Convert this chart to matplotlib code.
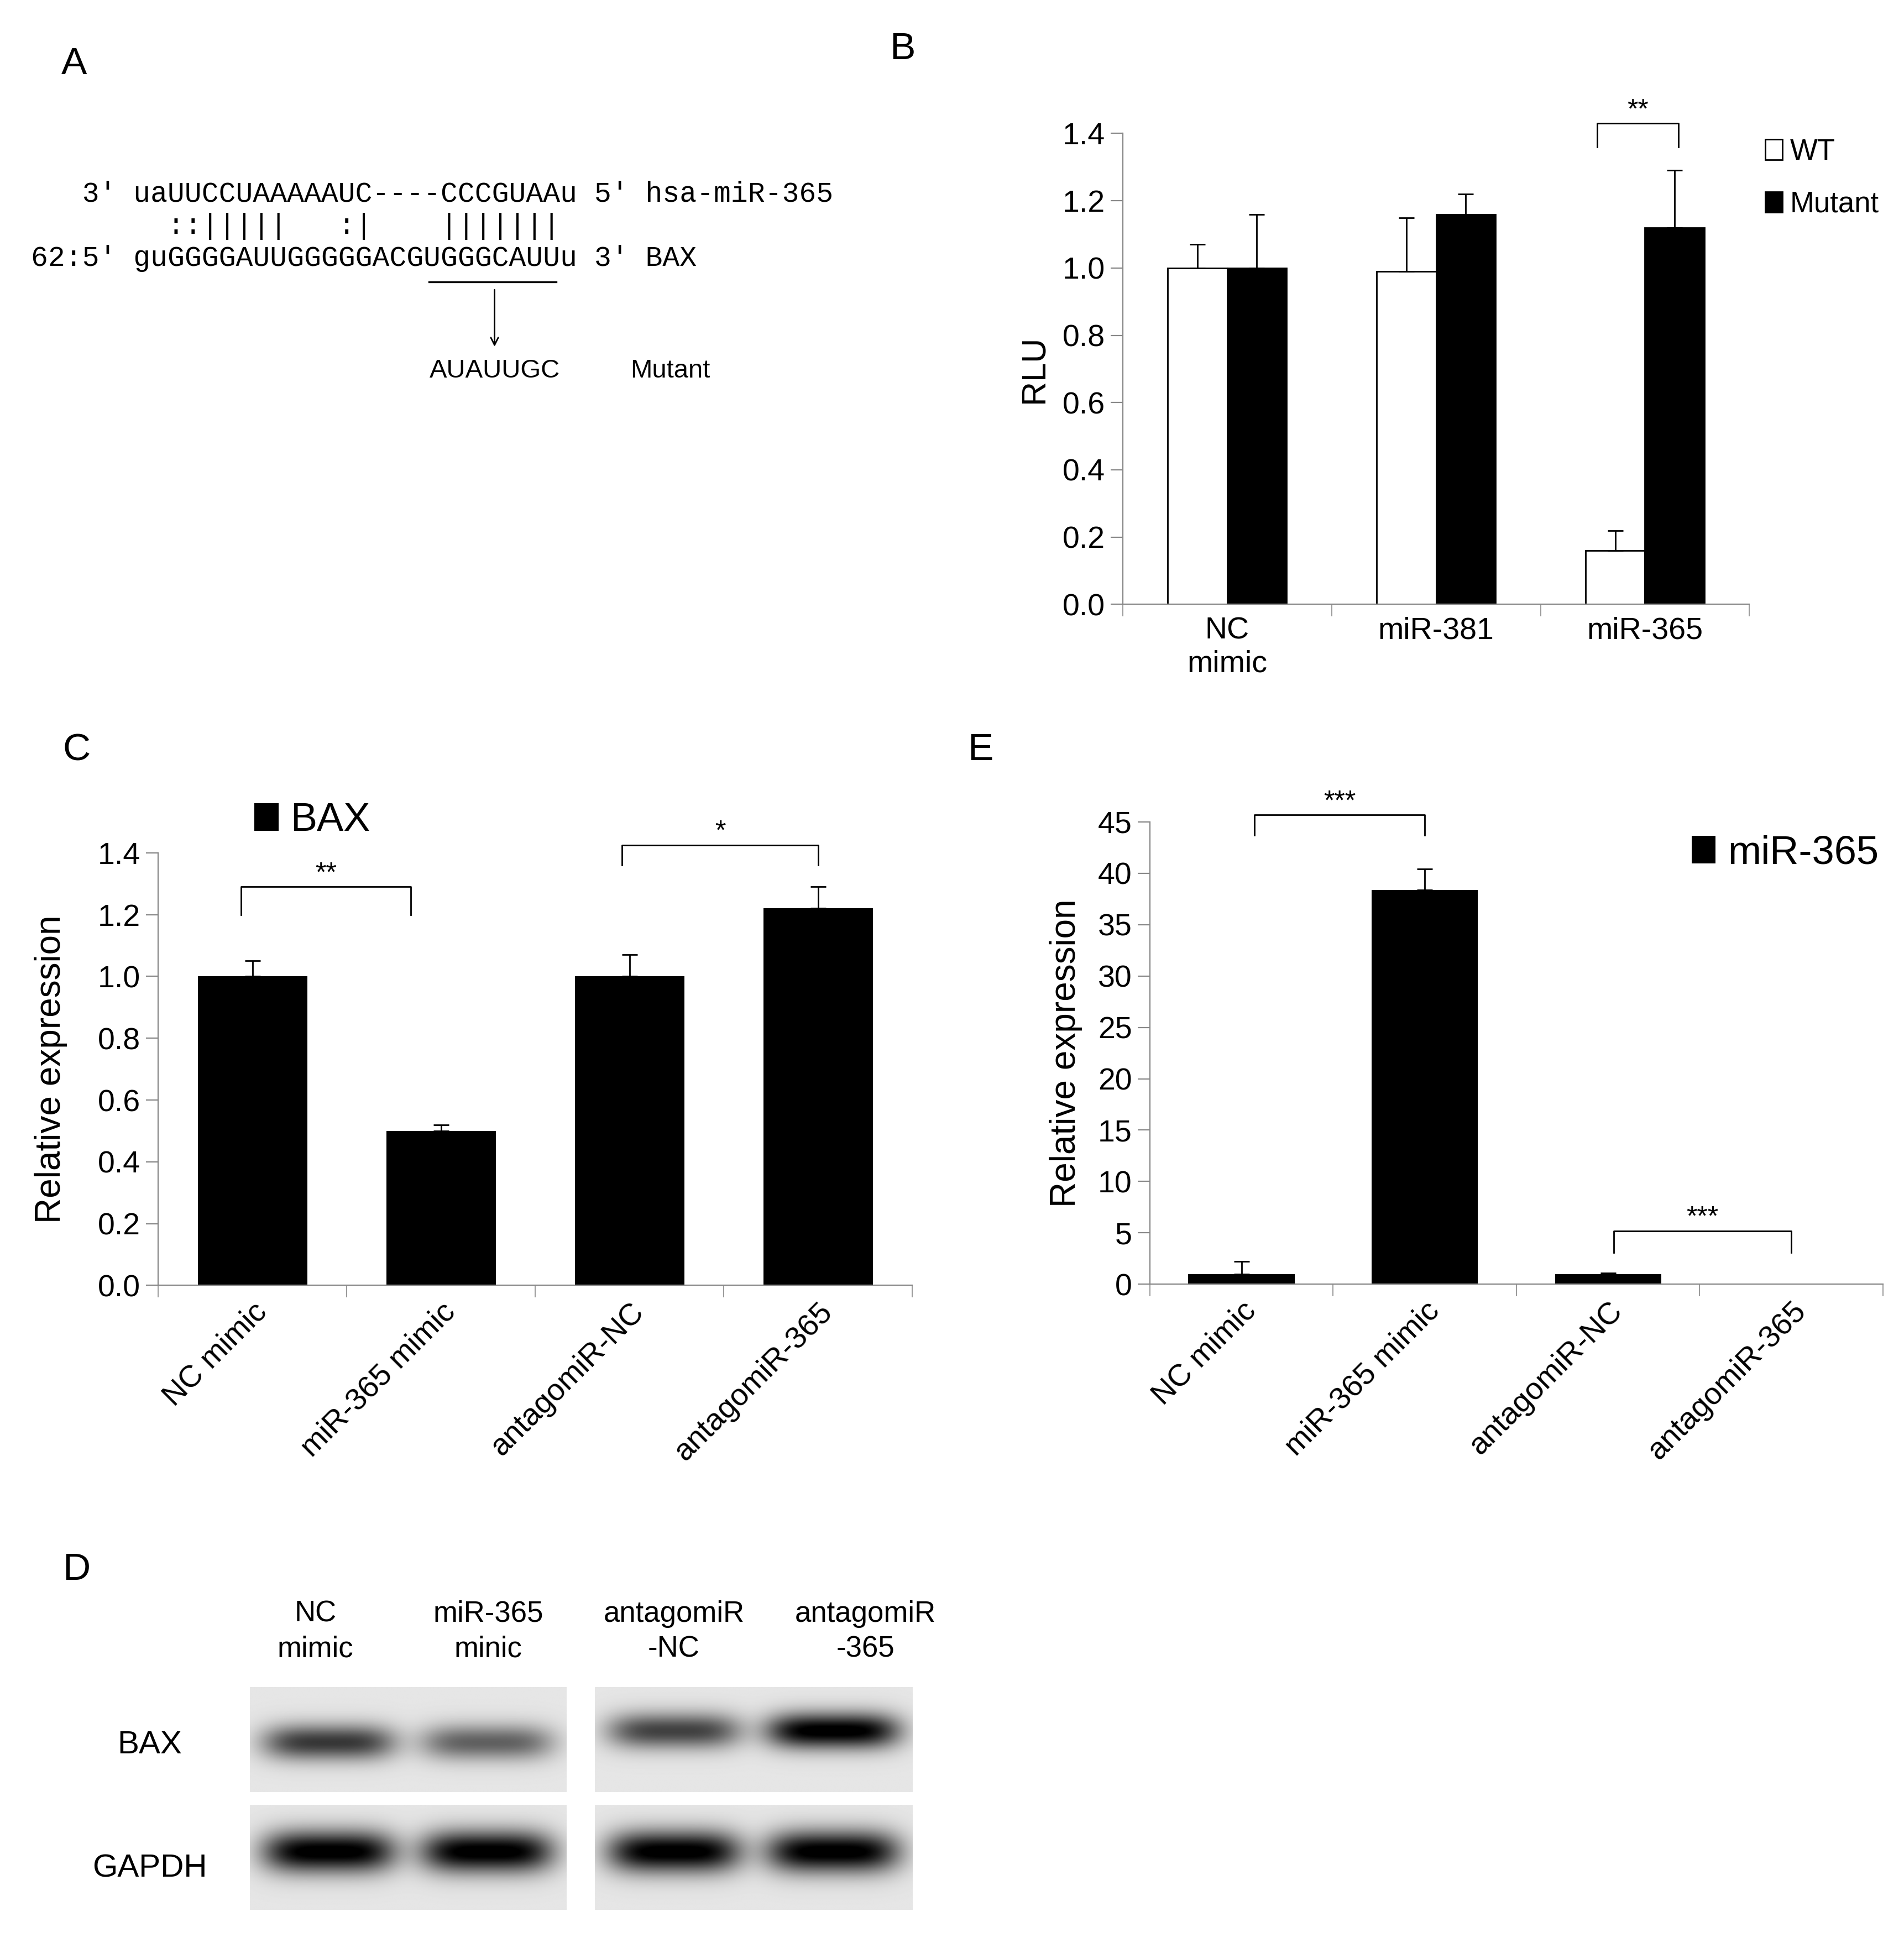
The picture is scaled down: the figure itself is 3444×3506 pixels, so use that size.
import numpy as np
import matplotlib
matplotlib.use("Agg")
import matplotlib.pyplot as plt
from matplotlib.patches import Patch

plt.rcParams['font.family'] = ['Liberation Sans', 'DejaVu Sans']

# ---- data ----
b_groups = ['NC\nmimic', 'miR-381', 'miR-365']
b_wt = [1.0, 0.99, 0.16]
b_wt_err = [0.07, 0.16, 0.06]
b_mut = [1.0, 1.16, 1.12]
b_mut_err = [0.16, 0.06, 0.17]

c_groups = ['NC mimic', 'miR-365 mimic', 'antagomiR-NC', 'antagomiR-365']
c_bax = [1.0, 0.5, 1.0, 1.22]
c_bax_err = [0.05, 0.02, 0.07, 0.07]

e_groups = ['NC mimic', 'miR-365 mimic', 'antagomiR-NC', 'antagomiR-365']
e_mir = [1.0, 38.4, 1.0, 0.02]
e_mir_err = [1.2, 2.0, 0.1, 0.0]

d_lanes = ['NC\nmimic', 'miR-365\nminic', 'antagomiR\n-NC', 'antagomiR\n-365']
d_bax = [0.72, 0.55, 0.68, 1.0]
d_gapdh = [1.0, 1.0, 1.0, 1.0]

W, H = 1540, 1568
def f(x, y):
    return x / W, 1 - y / H

fig = plt.figure(figsize=(17.22, 17.53), dpi=200)
axc = '#888888'

def style(ax, n):
    for s in ['top', 'right']:
        ax.spines[s].set_visible(False)
    for s in ['left', 'bottom']:
        ax.spines[s].set_color(axc)
    ax.set_xlim(-0.5, n - 0.5)
    ax.set_xticks(np.arange(n))
    ax.set_xticks(np.arange(n + 1) - 0.5, minor=True)
    ax.tick_params(axis='x', which='major', length=0, labelsize=20, pad=8)
    ax.tick_params(axis='x', which='minor', length=8, color=axc)
    ax.tick_params(axis='y', length=8, color=axc, labelsize=20)

def bracket(ax, x1, x2, y, drop, txt):
    ax.plot([x1, x1, x2, x2], [y - drop, y, y, y - drop], color='black', lw=1, clip_on=False)
    ax.text((x1 + x2) / 2, y, txt, ha='center', va='bottom', fontsize=18, clip_on=False)

# ---- Panel A ----
mono = dict(family='Liberation Mono', fontsize=18.5)
fig.text(*f(25, 157), "   3' uaUUCCUAAAAAUC----CCCGUAAu 5' hsa-miR-365", va='center', **mono)
fig.text(*f(25, 183), "        ::|||||   :|    |||||||", va='center', **mono)
fig.text(*f(25, 209), "62:5' guGGGGAUUGGGGGACGUGGGCAUUu 3' BAX", va='center', **mono)
fig.add_artist(plt.Line2D([347 / W, 450 / W], [1 - 228 / H, 1 - 228 / H], color='black', lw=1.2))
fig.add_artist(matplotlib.patches.FancyArrowPatch(f(400, 232), f(400, 283), arrowstyle='->',
                                                  mutation_scale=12, color='black', lw=1))
fig.text(*f(400, 300), 'AUAUUGC', ha='center', va='center', fontsize=17)
fig.text(*f(542, 300), 'Mutant', ha='center', va='center', fontsize=17)

# ---- Panel B ----
l, b = f(908, 489); r, t = f(1415, 108)
ax = fig.add_axes([l, b, r - l, t - b])
x = np.arange(len(b_groups))
bw = 0.285
ax.bar(x - bw / 2, b_wt, bw, color='white', edgecolor='black', lw=1,
       yerr=[np.zeros(3), b_wt_err], error_kw=dict(lw=1, capsize=5, ecolor='black'))
ax.bar(x + bw / 2, b_mut, bw, color='black', edgecolor='black', lw=1,
       yerr=[np.zeros(3), b_mut_err], error_kw=dict(lw=1, capsize=5, ecolor='black'))
style(ax, 3)
ax.set_xticklabels(b_groups)
ax.set_ylim(0, 1.4)
ax.set_yticks(np.arange(0, 1.41, 0.2))
ax.set_yticklabels([f'{v:.1f}' for v in np.arange(0, 1.41, 0.2)])
ax.set_ylabel('RLU', fontsize=22, labelpad=8)
bracket(ax, 1.77, 2.16, 1.43, 0.07, '**')
ax.legend(handles=[Patch(facecolor='white', edgecolor='black', label='WT'),
                   Patch(facecolor='black', edgecolor='black', label='Mutant')],
          loc='upper left', bbox_to_anchor=(1.025, 0.99), frameon=False, fontsize=19,
          handlelength=0.6, handleheight=0.7, handletextpad=0.25, labelspacing=0.85,
          borderaxespad=0, borderpad=0)

# ---- Panel C ----
l, b = f(128, 1040); r, t = f(738, 690)
ax = fig.add_axes([l, b, r - l, t - b])
x = np.arange(4)
ax.bar(x, c_bax, 0.58, color='black', yerr=[np.zeros(4), c_bax_err],
       error_kw=dict(lw=1, capsize=5, ecolor='black'), label='BAX')
style(ax, 4)
ax.set_xticklabels(c_groups, rotation=45, ha='right', rotation_mode='anchor')
ax.set_ylim(0, 1.4)
ax.set_yticks(np.arange(0, 1.41, 0.2))
ax.set_yticklabels([f'{v:.1f}' for v in np.arange(0, 1.41, 0.2)])
ax.set_ylabel('Relative expression', fontsize=23, labelpad=20)
bracket(ax, -0.06, 0.84, 1.29, 0.09, '**')
bracket(ax, 1.96, 3.0, 1.425, 0.065, '*')
ax.legend(loc='upper left', bbox_to_anchor=(0.08, 1.2), frameon=False, fontsize=26,
          handlelength=0.6, handleheight=0.7, handletextpad=0.3)

# ---- Panel E ----
l, b = f(930, 1039); r, t = f(1523, 665)
ax = fig.add_axes([l, b, r - l, t - b])
ax.bar(x, e_mir, 0.58, color='black', yerr=[np.zeros(4), e_mir_err],
       error_kw=dict(lw=1, capsize=5, ecolor='black'), label='miR-365')
style(ax, 4)
ax.set_xticklabels(e_groups, rotation=45, ha='right', rotation_mode='anchor')
ax.set_ylim(0, 45)
ax.set_yticks(np.arange(0, 46, 5))
ax.set_ylabel('Relative expression', fontsize=23, labelpad=10)
bracket(ax, 0.07, 1.0, 45.7, 2.0, '***')
bracket(ax, 2.03, 3.0, 5.2, 2.1, '***')
ax.legend(loc='upper left', bbox_to_anchor=(0.69, 1.05), frameon=False, fontsize=26,
          handlelength=0.6, handleheight=0.7, handletextpad=0.3)

# ---- Panel D (western blot) ----
def blot(ax, vals, yc, sy):
    n = len(vals)
    xs = np.linspace(0, n, 400)
    ys = np.linspace(0, 1, 120)
    X, Y = np.meshgrid(xs, ys)
    img = np.zeros_like(X)
    for i, v in enumerate(vals):
        img += v * np.exp(-((X - (i + 0.5)) / 0.42) ** 4) * np.exp(-((Y - yc) / sy) ** 2)
    img = 0.9 - 0.95 * np.clip(img, 0, 1)
    ax.imshow(img, cmap='gray', vmin=0, vmax=1, aspect='auto', extent=[0, n, 1, 0])
    ax.axis('off')

blocks = [(202, 458, 0), (481, 738, 2)]
for x0, x1, k in blocks:
    l, b = f(x0, 1450); r, t = f(x1, 1365)
    blot(fig.add_axes([l, b, r - l, t - b]), d_bax[k:k + 2], 0.53 if k == 0 else 0.42, 0.17)
    l, b = f(x0, 1545); r, t = f(x1, 1460)
    blot(fig.add_axes([l, b, r - l, t - b]), d_gapdh[k:k + 2], 0.45, 0.2)

for xl, lab in zip([255, 395, 545, 700], d_lanes):
    fig.text(*f(xl, 1320), lab, ha='center', va='center', fontsize=19, linespacing=1.35)
fig.text(*f(121, 1412), 'BAX', ha='center', va='center', fontsize=21)
fig.text(*f(121, 1512), 'GAPDH', ha='center', va='center', fontsize=21)

# ---- panel letters ----
for lt, (px, py) in zip('ABCED', [(60, 52), (730, 40), (62, 607), (793, 607), (62, 1270)]):
    fig.text(*f(px, py), lt, ha='center', va='center', fontsize=25)

fig.savefig('out.png', dpi=200)
